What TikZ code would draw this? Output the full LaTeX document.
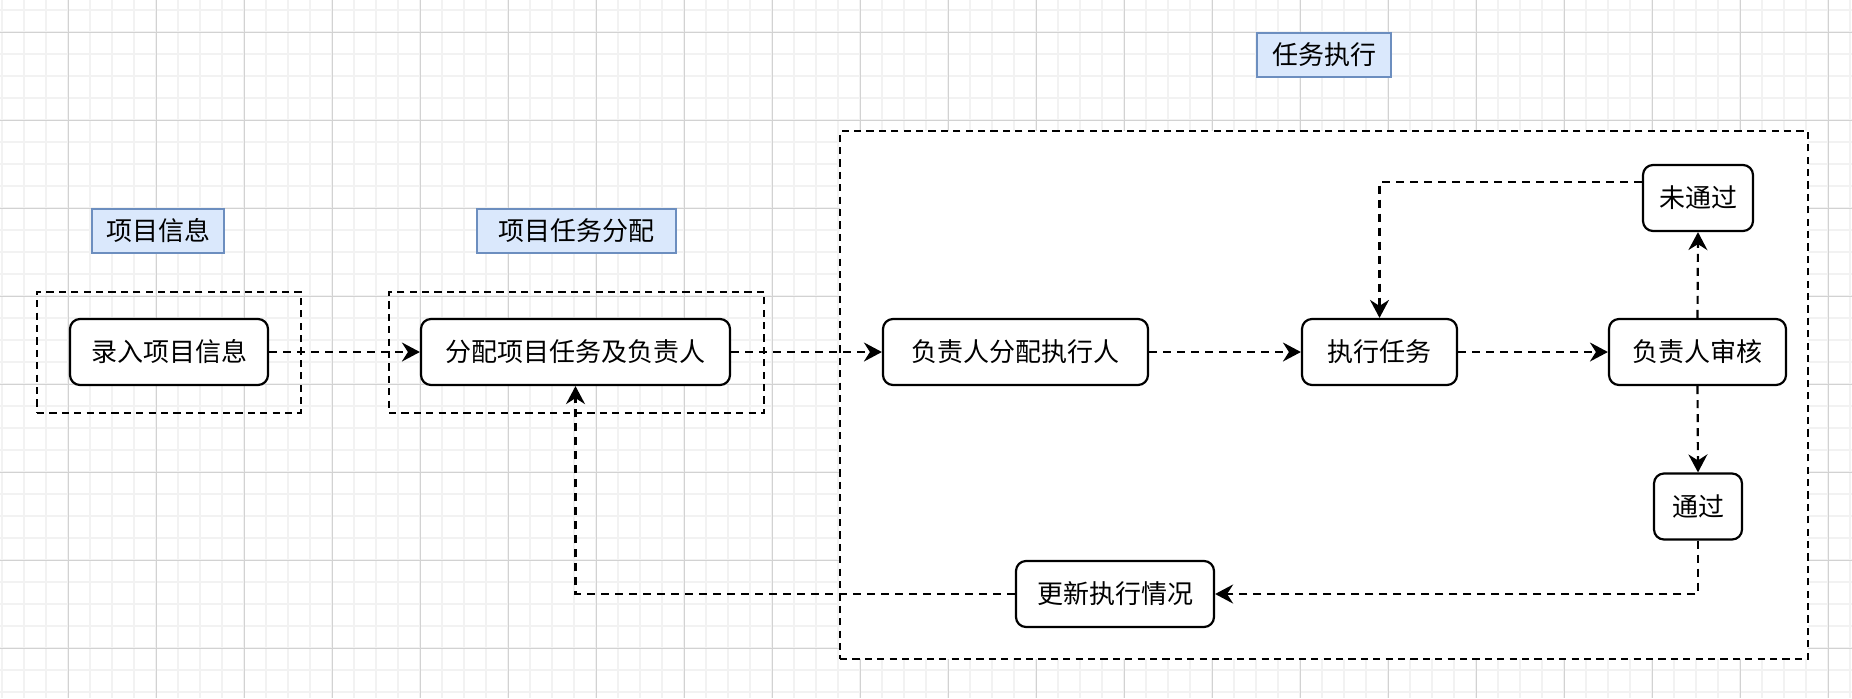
\documentclass[tikz,border=0pt]{standalone}
\usepackage{fontspec}
\newfontfamily\cjk{Noto Sans CJK SC}
\usetikzlibrary{arrows.meta}
\definecolor{gridminor}{RGB}{242,242,242}
\definecolor{gridmajor}{RGB}{210,210,210}
\definecolor{lblfill}{HTML}{DAE8FC}
\definecolor{lbldraw}{HTML}{6C8EBF}
\tikzset{
  txt/.style={font=\cjk\fontsize{13}{15}\selectfont, text=black, inner sep=0pt},
  lbl/.style={txt, fill=lblfill, draw=lbldraw, line width=1pt, minimum height=22pt},
  box/.style={txt, draw=black, fill=white, line width=1.1pt, rounded corners=5pt, minimum height=33pt},
  cont/.style={draw=black, line width=1.1pt, dash pattern=on 3.6pt off 2.6pt, inner sep=0pt},
  flow/.style={draw=black, line width=1.1pt, dash pattern=on 4pt off 3pt,
    -{Stealth[length=9pt, width=9.5pt, inset=3pt]}}
}
\begin{document}
\begin{tikzpicture}[x=0.5pt, y=-0.5pt]
\useasboundingbox (0,0) rectangle (1852,698);
\fill[white] (0,0) rectangle (1852,698);
% grid
\foreach \x in {2,24,...,1852} \draw[gridminor, line width=0.8pt] (\x,0) -- (\x,698);
\foreach \y in {10,32,...,698} \draw[gridminor, line width=0.8pt] (0,\y) -- (1852,\y);
\foreach \x in {68,156,...,1852} \draw[gridmajor, line width=0.5pt] (\x,0) -- (\x,698);
\foreach \y in {32,120,...,698} \draw[gridmajor, line width=0.5pt] (0,\y) -- (1852,\y);

% titles
\node[lbl, minimum width=66pt] (l1) at (158,231) {项目信息};
\node[lbl, minimum width=99.5pt] (l2) at (576.5,231) {项目任务分配};
\node[lbl, minimum width=67pt] (l3) at (1324,55) {任务执行};

% containers
\node[cont, minimum width=132pt, minimum height=60.5pt] (c1) at (169,352.5) {};
\node[cont, minimum width=187.5pt, minimum height=60.5pt] (c2) at (576.5,352.5) {};
\node[cont, fill=white, minimum width=484pt, minimum height=264pt] (c3) at (1324,395) {};

% nodes
\node[box, minimum width=99pt] (n1) at (169,352) {录入项目信息};
\node[box, minimum width=154.5pt] (n2) at (575.5,352) {分配项目任务及负责人};
\node[box, minimum width=132.5pt] (n3) at (1015.5,352) {负责人分配执行人};
\node[box, minimum width=77.5pt] (n4) at (1379.5,352) {执行任务};
\node[box, minimum width=88.5pt] (n5) at (1697.5,352) {负责人审核};
\node[box, minimum width=55pt] (n6) at (1698,198) {未通过};
\node[box, minimum width=44pt] (n7) at (1698,506.5) {通过};
\node[box, minimum width=99pt] (n8) at (1115,594) {更新执行情况};

% connectors
\draw[flow] (n1.east) -- (n2.west);
\draw[flow] (n2.east) -- (n3.west);
\draw[flow] (n3.east) -- (n4.west);
\draw[flow] (n4.east) -- (n5.west);
\draw[flow] (n5.north) -- (n6.south);
\draw[flow] ([yshift=8pt]n6.west) -| (n4.north);
\draw[flow] (n5.south) -- (n7.north);
\draw[flow] (n7.south) |- (n8.east);
\draw[flow] (n8.west) -| (n2.south);
\end{tikzpicture}
\end{document}
